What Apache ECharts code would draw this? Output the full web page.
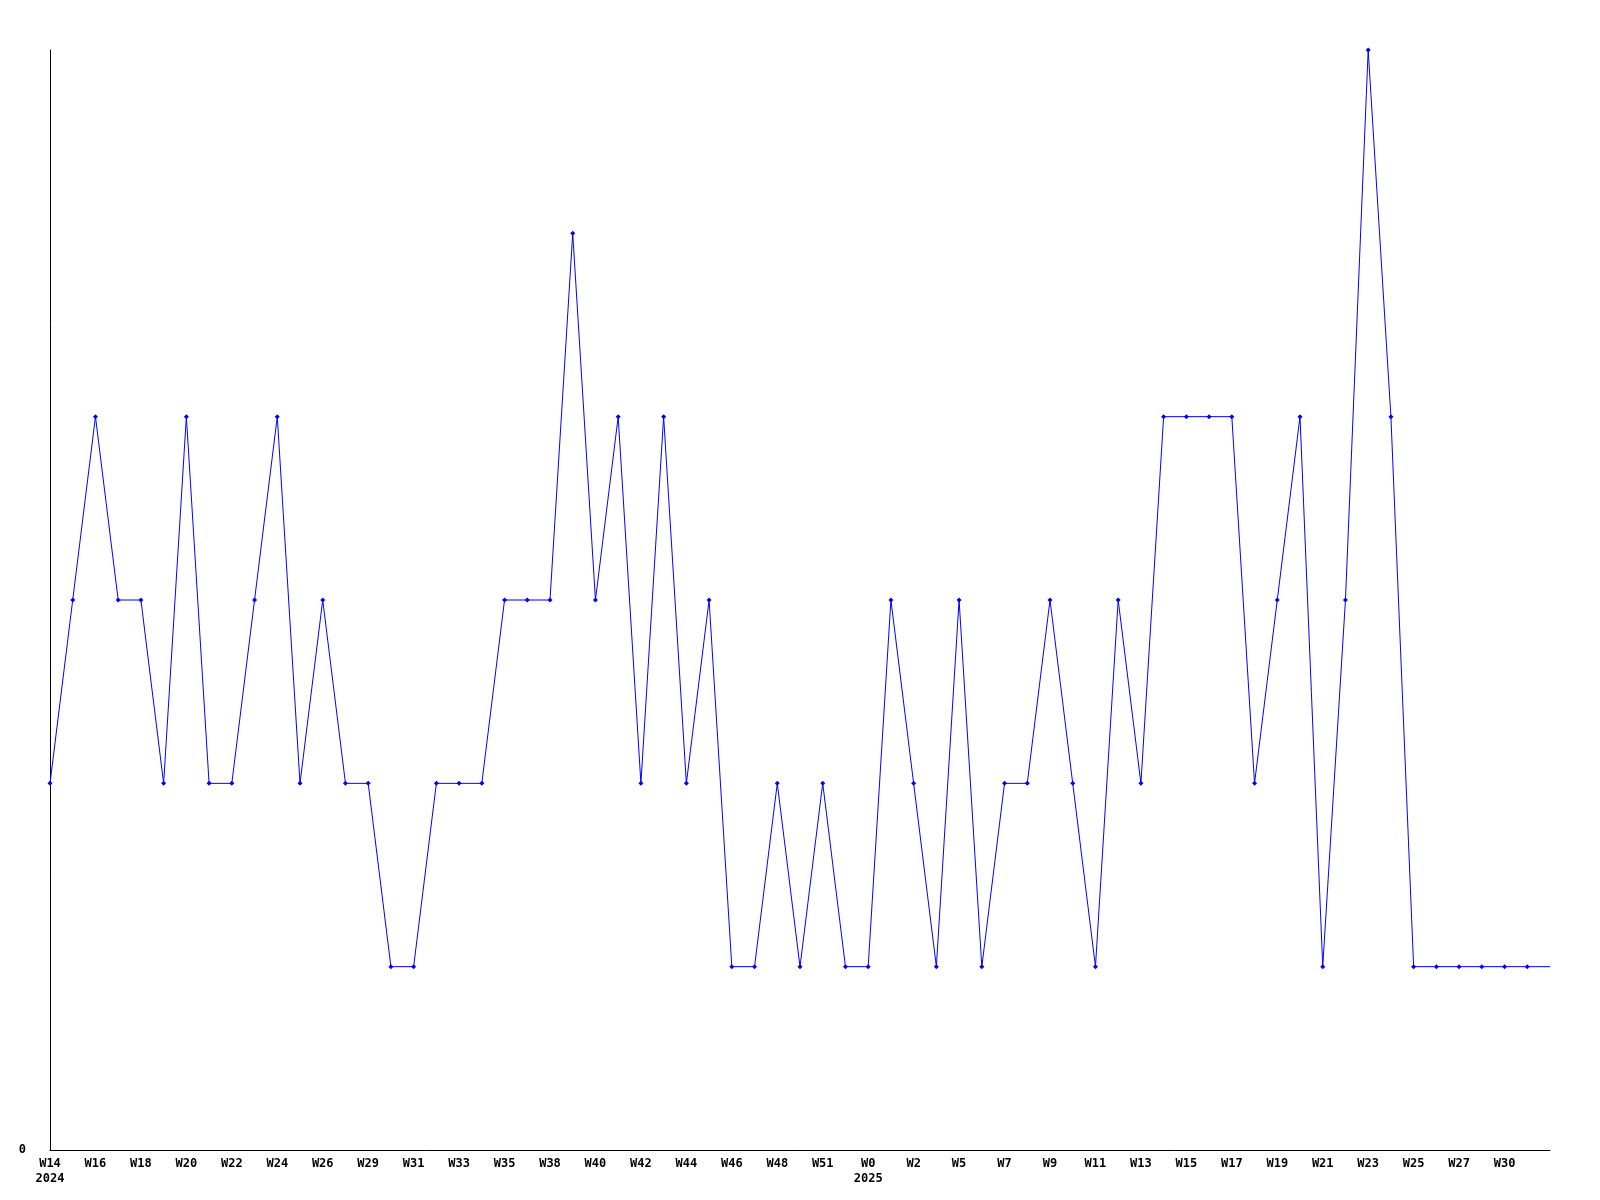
<!DOCTYPE html>
<html>
<head>
<meta charset="utf-8">
<script src="https://cdn.jsdelivr.net/npm/echarts@6/dist/echarts.min.js"></script>
<style>
html,body{margin:0;padding:0;background:#fff;}
#chart{width:1600px;height:1200px;}
</style>
</head>
<body>
<div id="chart"></div>
<script>
// Tick labels shown under every second weekly point
var tickLabels = ['W14\n2024','W16','W18','W20','W22','W24','W26','W29','W31','W33','W35','W38','W40','W42','W44','W46','W48','W51','W0\n2025','W2','W5','W7','W9','W11','W13','W15','W17','W19','W21','W23','W25','W27','W30'];

// Weekly values (67 weeks)
var values = [2,3,4,3,3,2,4,2,2,3,4,2,3,2,2,1,1,2,2,2,3,3,3,5,3,4,2,4,2,3,1,1,2,1,2,1,1,3,2,1,3,1,2,2,3,2,1,3,2,4,4,4,4,2,3,4,1,3,6,4,1,1,1,1,1,1,1];

var categories = [];
for (var i = 0; i < values.length; i++) {
  categories.push(i % 2 === 0 ? (tickLabels[i / 2] || '') : '');
}

var seriesData = values.map(function (v, i) {
  if (i === values.length - 1) return { value: v, symbol: 'none' };
  return v;
});

var chart = echarts.init(document.getElementById('chart'), null, { renderer: 'canvas' });
chart.setOption({
  animation: false,
  backgroundColor: '#ffffff',
  grid: { left: 50, right: 50, top: 50, bottom: 50, containLabel: false },
  xAxis: {
    type: 'category',
    data: categories,
    boundaryGap: false,
    axisLine: { show: true, lineStyle: { color: '#000', width: 1 } },
    axisTick: { show: false },
    splitLine: { show: false },
    axisLabel: {
      interval: 0,
      margin: 6,
      color: '#000',
      fontFamily: 'DejaVu Sans Mono',
      fontWeight: 'bold',
      fontSize: 12,
      lineHeight: 15,
      align: 'center'
    }
  },
  yAxis: {
    type: 'value',
    min: 0,
    max: 6,
    interval: 1,
    axisLine: { show: true, lineStyle: { color: '#000', width: 1 } },
    axisTick: { show: false },
    splitLine: { show: false },
    axisLabel: {
      margin: 24,
      color: '#000',
      fontFamily: 'DejaVu Sans Mono',
      fontWeight: 'bold',
      fontSize: 12,
      formatter: function (v) { return v === 0 ? '0' : ''; }
    }
  },
  series: [{
    type: 'line',
    data: seriesData,
    symbol: 'diamond',
    symbolSize: 5,
    showSymbol: true,
    lineStyle: { color: '#0000ff', width: 1 },
    itemStyle: { color: '#0000ff', borderWidth: 0 },
    emphasis: { disabled: true }
  }]
});
</script>
</body>
</html>
